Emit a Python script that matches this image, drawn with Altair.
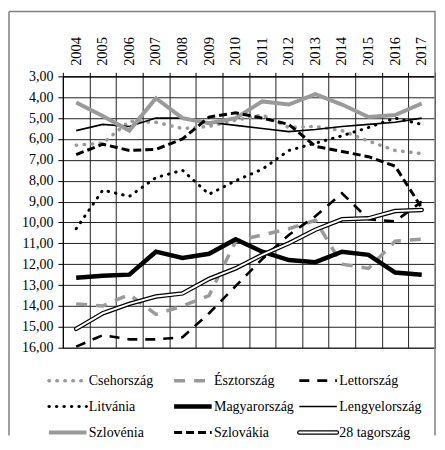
import altair as alt
import pandas as pd

years = list(range(2004, 2018))

csehorszag = [6.3, 6.2, 5.15, 5.2, 5.5, 5.4, 5.1, 4.85, 5.45, 5.4, 5.6, 6.1, 6.55, 6.7]
esztorszag = [13.9, 14.0, 13.45, 14.4, 14.0, 13.5, 10.9, 10.6, 10.3, 9.9, 12.0, 12.2, 10.9, 10.8]
lettorszag = [15.95, 15.4, 15.6, 15.6, 15.5, 14.35, 13.05, 11.75, 10.6, 9.7, 8.6, 9.85, 9.95, 9.0]
litvania = [10.3, 8.45, 8.75, 7.85, 7.5, 8.65, 8.0, 7.45, 6.55, 6.2, 5.85, 5.45, 5.0, 5.3]
magyarorszag = [12.65, 12.55, 12.5, 11.4, 11.7, 11.5, 10.8, 11.4, 11.8, 11.9, 11.4, 11.55, 12.4, 12.5]
lengyelorszag = [5.6, 5.3, 5.4, 5.0, 5.0, 5.2, 5.35, 5.5, 5.65, 5.55, 5.4, 5.3, 5.2, 5.0]
szlovenia = [4.25, 4.9, 5.6, 4.05, 5.0, 5.25, 5.0, 4.2, 4.35, 3.85, 4.35, 4.95, 4.85, 4.3]
szlovakia = [6.75, 6.25, 6.55, 6.5, 6.0, 4.95, 4.75, 5.0, 5.3, 6.35, 6.6, 6.85, 7.3, 9.3]
eu28 = [15.1, 14.35, 13.9, 13.55, 13.4, 12.7, 12.2, 11.55, 11.0, 10.35, 9.85, 9.8, 9.45, 9.4]

series_names = ["Csehország", "Észtország", "Lettország", "Litvánia", "Magyarország",
                "Lengyelország", "Szlovénia", "Szlovákia", "28 tagország"]
series_values = [csehorszag, esztorszag, lettorszag, litvania, magyarorszag,
                 lengyelorszag, szlovenia, szlovakia, eu28]
legend_col = [0, 1, 2, 0, 1, 2, 0, 1, 2]
legend_row = [0, 0, 0, 1, 1, 1, 2, 2, 2]
y_ticks = list(range(3, 17))

rows = []
for name, vals in zip(series_names, series_values):
    for yr, v in zip(years, vals):
        rows.append({"series": name, "year": yr, "value": v})
df = pd.DataFrame(rows)
leg = pd.DataFrame({"series": series_names, "col": legend_col, "row": legend_row})

FONT = "serif"
GRAY = "#9a9a9a"
W, H = 373, 272

styles = {
    "Csehország": dict(color=GRAY, strokeWidth=3.5, strokeDash=[0.5, 7.5], strokeCap="round"),
    "Észtország": dict(color=GRAY, strokeWidth=3.5, strokeDash=[11, 9], strokeCap="butt"),
    "Lettország": dict(color="black", strokeWidth=2.6, strokeDash=[10, 8], strokeCap="butt"),
    "Litvánia": dict(color="black", strokeWidth=3, strokeDash=[0.5, 7], strokeCap="round"),
    "Magyarország": dict(color="black", strokeWidth=4.5, strokeCap="butt"),
    "Lengyelország": dict(color="black", strokeWidth=1.6, strokeCap="butt"),
    "Szlovénia": dict(color=GRAY, strokeWidth=4, strokeCap="butt"),
    "Szlovákia": dict(color="black", strokeWidth=3, strokeDash=[8, 4], strokeCap="butt"),
    "28 tagország": dict(color="black", strokeWidth=4.5, strokeCap="round"),
}

x_enc = alt.X(
    "year:O", title=None, bandPosition=0.5,
    scale=alt.Scale(type="band", paddingInner=0, paddingOuter=0),
    axis=alt.Axis(orient="top", labelAngle=-90, tickBand="extent", grid=True,
                  gridColor="#222", gridWidth=1, domainColor="black", tickColor="black",
                  tickSize=4, labelPadding=7, labelFont=FONT, labelFontSize=14.5,
                  labelColor="black"),
)
y_enc = alt.Y(
    "value:Q", title=None,
    scale=alt.Scale(domain=[3, 16], reverse=True, nice=False, zero=False),
    axis=alt.Axis(values=y_ticks, labelExpr="replace(format(datum.value, '.2f'), '.', ',')",
                  grid=True, gridColor="#222", gridWidth=1, domainColor="black",
                  tickColor="black", tickSize=5, labelPadding=5, labelFont=FONT,
                  labelFontSize=14, labelColor="black"),
)

base = alt.Chart(df)
line_layers = []
for name in series_names:
    line_layers.append(
        base.transform_filter(alt.datum.series == name)
        .mark_line(**styles[name])
        .encode(x=x_enc, y=y_enc)
    )
line_layers.append(
    base.transform_filter(alt.datum.series == "28 tagország")
    .mark_line(color="white", strokeWidth=2, strokeCap="round")
    .encode(x=x_enc, y=y_enc)
)
main = alt.layer(*line_layers)

lbase = alt.Chart(leg).transform_calculate(col_end="datum.col + 0.3")
lx = alt.X("col:Q", scale=alt.Scale(domain=[0, 2], range=[-14, 237]), axis=None)
ly = alt.Y("row:Q", scale=alt.Scale(domain=[0, 2], range=[305, 357]), axis=None)
leg_layers = []
for name in series_names:
    leg_layers.append(
        lbase.transform_filter(alt.datum.series == name)
        .mark_rule(**styles[name])
        .encode(x=lx, x2="col_end:Q", y=ly)
    )
leg_layers.append(
    lbase.transform_filter(alt.datum.series == "28 tagország")
    .mark_rule(color="white", strokeWidth=2, strokeCap="round")
    .encode(x=lx, x2="col_end:Q", y=ly)
)
leg_layers.append(
    lbase.mark_text(align="left", baseline="middle", dx=40, font=FONT, fontSize=14,
                    color="black")
    .encode(x=lx, y=ly, text="series:N")
)
legend = alt.layer(*leg_layers)

fdf = pd.DataFrame({"a": [0]})
fbase = alt.Chart(fdf)
frame = alt.layer(
    fbase.mark_rule(color="#808080", strokeWidth=1.5).encode(
        x=alt.value(-54), x2=alt.value(W + 0.5), y=alt.value(-65)),
    fbase.mark_rule(color="#808080", strokeWidth=1.5).encode(
        x=alt.value(-54), y=alt.value(-65), y2=alt.value(360)),
    fbase.mark_rule(color="#808080", strokeWidth=1.5).encode(
        x=alt.value(W), y=alt.value(-65), y2=alt.value(360)),
)

chart = (
    alt.layer(main, legend, frame)
    .resolve_scale(x="independent", y="independent")
    .properties(width=W, height=H,
                padding={"left": 0, "top": 2, "right": 0, "bottom": 0})
    .configure_view(stroke="#222", strokeWidth=1)
)

chart.save("out.html", embed_options={"renderer": "svg", "actions": False})
